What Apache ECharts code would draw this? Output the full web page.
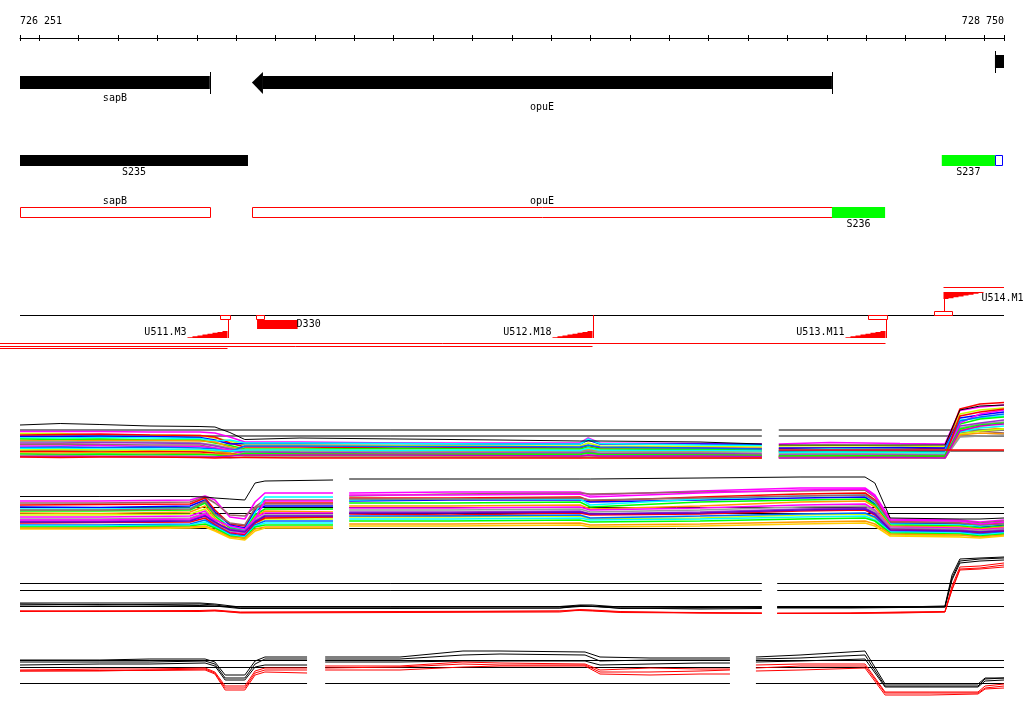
<!DOCTYPE html>
<html><head><meta charset="utf-8">
<script src="https://cdn.jsdelivr.net/npm/echarts@6/dist/echarts.min.js"></script>
<style>html,body{margin:0;padding:0;background:#fff}#c{width:1024px;height:714px}</style>
</head><body><div id="c"></div>
<script>
// ---------------- DATA ----------------
const X_MIN = 726251, X_MAX = 728750;
const rulerTicks = [726251,726300,726400,726500,726600,726700,726800,726900,727000,727100,727200,727300,727400,727500,727600,727700,727800,727900,728000,728100,728200,728300,728400,728500,728600,728700,728750];
const rulerLabels = [726251, 728750];

// genes: name, start, end, strand
const genes = [['sapB',725700,726733,-1],['opuE',726840,728313,-1],['',728727,729300,1]];
// segments track: name, start, end, kind
const segments = [['S235',725700,726830,'known'],['S237',728592,728727,'new']];
const segBoxes = [[728727,728745]];
// transcripts track
const transcripts = [['sapB',725700,726733],['opuE',726840,728313]];
const newTranscripts = [['S236',728313,728448]];
// terminator-like boxes: start, end, side (1 above line, -1 below)
const termBoxes = [[726759,726784,-1],[726850,726870,-1],[728405,728452,-1],[728573,728617,1]];
const downFeatures = [['D330',726853,726956]];
// upshifts: name, position, strand, far extent
const upNames = ['U511.M3','U512.M18','U513.M11','U514.M1'];
const upPos = [726776,727704,728448,728594];
const upStrand = [-1,-1,-1,1];
const upExtent = [726150,726150,726150,728900];

// Panel A (+ strand, all conditions)
const aKnotsL = [726251,726353,726454,726581,726708,726746,726784,726822,726962,727216,727470,727673,727694,727724,727978,728135];
const aKnotsR = [728178,728308,728486,728600,728638,728689,728750];
const aLinesL = [
 [9.3,9.3,9.3,9.2,9.2,9.0,8.2,7.2,7.2,7.0,7.0,7.0,8.0,7.0,6.9,6.8],
 [8.9,8.9,8.6,8.6,8.5,8.0,7.4,6.6,6.6,6.5,6.4,6.4,7.0,6.4,6.3,6.2],
 [8.6,8.7,8.8,8.6,8.5,8.2,7.0,6.2,6.2,6.0,6.1,6.0,6.5,6.0,6.0,5.9],
 [8.3,8.3,8.4,8.3,8.1,7.6,6.8,6.9,6.9,6.9,6.8,6.8,7.6,6.8,6.8,6.7],
 [8.0,8.0,8.1,8.0,7.9,7.4,7.6,7.0,7.0,6.9,6.8,6.8,7.8,6.9,6.6,6.5],
 [7.8,7.7,7.8,7.6,7.6,7.0,6.5,5.8,5.8,5.9,5.8,5.8,6.2,5.8,5.7,5.6],
 [7.5,7.4,7.5,7.5,7.4,7.2,6.2,5.6,5.5,5.5,5.4,5.5,5.8,5.4,5.4,5.3],
 [7.3,7.3,7.2,7.2,7.0,6.6,6.0,5.4,5.3,5.2,5.2,5.2,5.4,5.2,5.1,5.0],
 [7.0,7.0,7.1,7.0,6.9,6.4,5.8,5.2,5.1,5.0,5.0,5.0,5.2,4.9,4.9,4.8],
 [6.7,6.8,6.7,6.6,6.6,6.0,5.4,4.9,4.9,4.8,4.8,4.8,5.0,4.8,4.7,4.6],
 [6.4,6.4,6.5,6.3,6.3,6.0,5.6,4.7,4.6,4.6,4.5,4.4,4.6,4.5,4.4,4.4],
 [6.1,6.2,6.1,6.2,6.0,5.8,5.2,6.4,6.4,6.3,6.3,6.2,6.6,6.2,6.0,5.8],
 [5.9,5.9,5.8,5.8,5.7,5.6,5.4,5.6,5.6,5.5,5.6,5.5,6.0,5.5,5.5,5.4],
 [5.6,5.7,5.6,5.5,5.5,5.2,5.0,4.6,4.6,4.4,4.4,4.3,4.5,4.3,4.3,4.2],
 [5.3,5.3,5.2,5.3,5.2,5.0,4.9,4.5,4.4,4.3,4.2,4.2,4.4,4.2,4.2,4.2],
 [5.0,5.0,5.1,5.0,4.9,4.7,4.8,4.4,4.3,4.2,4.2,4.1,4.2,4.1,4.1,4.0],
 [4.8,4.7,4.8,4.7,4.7,4.6,4.4,4.9,4.8,4.7,4.8,4.7,5.0,4.7,4.6,4.5],
 [4.5,4.5,4.4,4.5,4.4,4.3,4.0,4.2,4.2,4.2,4.1,4.1,4.2,4.1,4.0,4.0],
 [4.3,4.3,4.3,4.2,4.2,4.2,4.4,4.6,4.6,4.6,4.5,4.4,4.6,4.4,4.4,4.3],
 [4.2,4.1,4.2,4.2,4.1,4.0,4.1,4.1,4.0,4.0,4.0,4.0,4.0,4.0,4.0,4.0]
];
const aLinesR = [
 [6.8,7.1,6.9,6.8,13.5,14.2,14.6],
 [6.4,6.5,6.4,6.3,12.8,13.6,14.0],
 [5.9,6.0,6.0,5.9,13.8,14.8,15.1],
 [6.0,6.0,6.1,6.0,12.0,12.6,13.2],
 [5.6,5.8,5.7,5.6,11.6,12.0,12.4],
 [5.2,5.4,5.3,5.2,10.8,11.8,12.2],
 [5.0,5.0,5.1,5.0,9.6,10.2,9.8],
 [4.8,4.9,4.8,4.7,10.0,10.8,11.2],
 [4.6,4.6,4.6,4.5,10.4,11.0,11.6],
 [4.4,4.4,4.5,4.4,9.0,9.4,9.0],
 [4.2,4.3,4.2,4.2,11.0,12.8,13.6],
 [5.4,5.5,5.5,5.4,11.4,12.2,12.8],
 [5.1,5.2,5.1,5.0,9.2,10.0,10.4],
 [4.0,4.0,4.1,4.0,8.8,9.4,9.8],
 [4.3,4.4,4.3,4.3,12.4,13.2,13.8],
 [4.1,4.1,4.0,4.0,8.6,9.0,8.8],
 [4.4,4.5,4.4,4.4,9.8,10.6,11.0],
 [4.1,4.1,4.1,4.0,8.2,8.4,8.6],
 [4.0,4.0,4.1,4.0,9.4,10.4,10.8],
 [5.6,5.6,5.6,5.6,5.6,5.6,5.6]
];
const aBlackL = [10.6,10.9,10.7,10.4,10.3,10.2,9.1,7.7,8.0,7.8,7.6,7.4,7.4,7.4,7.2,6.8];
const aBlackR = [6.6,6.6,6.6,6.6,13.6,14.4,14.6];
const aRefs = [9.6,8.4,5.4];

// Panel B (- strand, all conditions)
const bKnotsL = [726251,726454,726683,726721,726746,726784,726822,726848,726873,727046];
const bKnotsR = [727087,727343,727673,727699,727978,728232,728397,728422,728461,728638,728689,728750];
const bLinesL = [
 [8.8,8.8,9.0,9.8,9.0,5.6,5.2,8.6,10.4,10.4],
 [8.4,8.4,8.6,9.6,8.4,6.0,5.8,7.6,9.0,9.0],
 [8.0,8.1,8.2,9.4,7.0,4.2,3.8,7.0,8.4,8.4],
 [7.6,7.5,7.8,9.0,6.6,4.0,3.4,6.8,7.8,7.8],
 [7.2,7.2,7.4,8.6,6.0,3.6,3.0,6.4,9.6,9.6],
 [6.8,6.8,7.0,8.4,5.8,3.4,2.8,6.0,7.2,7.2],
 [6.4,6.3,6.6,7.8,5.4,3.0,2.4,5.6,6.8,6.6],
 [6.0,6.0,6.2,7.2,5.0,2.0,1.2,4.4,5.2,5.2],
 [5.6,5.6,5.8,6.8,4.6,2.6,2.2,5.4,6.4,6.4],
 [5.2,5.2,5.4,6.4,4.4,2.8,2.6,5.0,6.0,6.0],
 [4.8,4.8,5.0,6.0,4.2,3.2,2.8,4.8,5.6,5.6],
 [4.4,4.5,4.6,5.4,4.0,2.4,2.0,4.4,5.4,5.6],
 [4.0,4.0,4.2,5.0,3.8,2.2,1.8,4.0,4.8,4.8],
 [3.8,3.8,4.0,4.6,3.6,2.0,1.6,3.8,4.4,4.4],
 [3.6,3.6,3.8,4.2,3.4,1.8,1.4,3.6,4.0,4.0],
 [3.4,3.4,3.6,3.8,3.0,1.6,1.4,3.2,3.6,3.6],
 [7.0,7.0,7.2,8.8,6.2,4.4,4.0,7.4,8.2,8.2],
 [5.0,5.0,5.2,6.2,5.0,3.8,3.2,5.2,8.8,8.8],
 [4.6,4.6,4.8,5.8,4.6,3.0,2.6,4.6,5.8,5.8],
 [3.2,3.2,3.4,3.6,2.8,1.4,1.0,2.8,3.4,3.4]
];
const bLinesR = [
 [10.4,10.6,10.6,10.0,10.8,11.4,11.4,10.0,5.2,5.0,4.6,5.0],
 [9.8,10.2,10.4,10.2,10.6,10.8,11.0,9.6,4.8,4.8,4.4,4.8],
 [9.4,9.4,9.6,8.8,9.6,10.2,10.4,9.0,4.6,4.4,4.0,4.4],
 [8.8,9.0,9.0,8.6,9.0,9.4,9.6,8.2,4.4,4.2,3.6,4.0],
 [9.0,9.2,9.2,8.0,9.2,9.8,10.0,8.6,4.2,4.0,3.8,4.2],
 [8.4,8.4,8.6,7.6,8.6,9.0,9.2,8.0,4.0,3.8,3.4,3.8],
 [7.8,7.8,8.0,7.2,7.8,8.6,8.8,7.6,3.8,3.6,3.2,3.6],
 [5.6,5.6,5.8,5.2,5.4,6.0,6.2,5.4,2.0,1.8,2.4,2.6],
 [7.4,7.4,7.6,7.0,7.4,8.0,8.2,7.0,3.6,3.4,3.0,3.4],
 [7.0,7.0,7.2,6.6,7.0,7.6,7.8,6.8,3.4,3.2,2.8,3.2],
 [6.6,6.6,6.8,6.2,6.6,7.2,7.4,6.4,3.2,3.0,2.6,3.0],
 [6.2,6.0,6.4,6.0,6.2,6.8,7.0,6.0,3.0,2.8,2.4,2.8],
 [5.8,5.8,6.0,5.4,5.8,6.2,6.4,5.6,2.8,2.6,2.2,2.6],
 [5.2,5.2,5.4,5.0,5.2,5.6,5.8,5.0,2.6,2.4,2.0,2.4],
 [4.8,4.8,5.0,4.6,4.8,5.2,5.4,4.8,2.4,2.2,1.8,2.2],
 [4.2,4.2,4.4,4.0,4.2,4.6,4.8,4.2,2.2,2.0,1.6,2.0],
 [9.2,9.2,9.4,9.0,9.4,9.8,10.0,8.8,4.6,4.4,4.0,4.2],
 [10.0,10.0,10.2,9.6,10.4,11.0,11.2,9.8,5.0,4.8,4.2,4.6],
 [6.4,6.4,6.6,6.2,6.4,7.0,7.2,6.2,3.0,2.8,2.6,2.8],
 [3.8,3.8,4.0,3.6,3.8,4.2,4.4,3.8,1.8,1.6,1.4,1.8]
];
const bBlackL = [9.7,9.7,9.7,9.6,9.4,9.2,9.0,12.4,12.8,13.0];
const bBlackR = [13.2,13.2,13.2,13.2,13.4,13.6,13.6,12.4,5.4,5.2,5.2,5.4];
const bRefs = [7.5,6.3,3.3];

// Panel C (+ strand summary)
const cKnotsL = [726251,726454,726708,726746,726810,727216,727622,727673,727704,727775,727978,728135];
const cKnotsR = [728174,728359,728486,728600,728618,728638,728689,728750];
const cBlackL = [
 [3.4,3.4,3.4,3.2,2.6,2.6,2.7,3.0,3.0,2.6,2.5,2.6],
 [3.2,3.0,3.2,3.0,2.4,2.4,2.4,2.9,2.8,2.3,2.4,2.5],
 [3.0,3.1,2.9,2.8,2.3,2.3,2.4,2.7,2.7,2.4,2.2,2.3]
];
const cRedL = [
 [1.8,1.8,1.9,2.0,1.6,1.7,1.8,2.1,2.0,1.7,1.4,1.4],
 [1.7,1.8,1.7,1.9,1.4,1.5,1.6,2.0,1.9,1.6,1.5,1.4],
 [1.8,1.7,1.8,1.8,1.5,1.6,1.8,1.9,1.8,1.5,1.4,1.3]
];
const cBlackR = [
 [2.6,2.6,2.6,2.8,9.0,12.2,12.4,12.6],
 [2.5,2.5,2.5,2.6,8.4,11.8,12.2,12.4],
 [2.4,2.4,2.5,2.6,8.0,11.4,11.8,12.0]
];
const cRedR = [
 [1.4,1.4,1.6,1.7,6.8,10.6,10.8,11.4],
 [1.3,1.4,1.5,1.6,6.2,10.2,10.4,11.0],
 [1.3,1.3,1.4,1.6,6.0,10.0,10.2,10.6]
];
const cRefs = [7.3,5.9,2.7];

// Panel D (- strand summary)
const dKnotsL = [726251,726454,726581,726721,726746,726772,726822,726848,726873,726980];
const dKnotsM = [727026,727216,727376,727470,727686,727724,727851,727978,728054];
const dKnotsR = [728120,728232,728397,728448,728562,728684,728702,728750];
const dBlackL = [
 [8.0,8.0,8.2,8.2,7.6,5.0,5.0,7.8,8.6,8.6],
 [7.6,7.6,7.6,7.8,7.2,4.4,4.4,7.2,8.2,8.2],
 [7.0,7.2,7.2,7.4,6.8,4.0,4.0,6.6,7.0,7.0]
];
const dRedL = [
 [6.0,6.2,6.2,6.4,5.6,2.8,2.8,5.8,6.4,6.4],
 [5.8,5.8,6.0,6.2,5.4,2.4,2.4,5.4,6.0,6.0],
 [5.8,5.9,5.9,6.0,5.2,2.0,2.0,5.0,5.6,5.4]
];
const dBlackM = [
 [8.6,8.6,9.8,9.8,9.6,8.6,8.4,8.4,8.4],
 [8.2,8.2,9.0,9.2,9.0,7.8,8.0,8.0,8.0],
 [7.6,7.6,7.8,7.8,7.8,7.0,7.2,7.4,7.4]
];
const dRedM = [
 [6.8,6.8,7.6,7.4,7.2,6.0,6.4,6.2,6.2],
 [6.4,6.6,7.2,7.0,7.0,5.6,5.6,5.8,6.0],
 [6.0,6.0,6.6,6.8,6.8,5.2,5.0,5.2,5.2]
];
const dBlackR = [
 [8.6,9.0,9.8,3.2,3.2,3.2,4.4,4.4],
 [8.2,8.4,9.0,2.8,2.8,2.8,4.2,4.4],
 [7.6,7.8,8.2,2.6,2.6,2.6,3.8,4.0]
];
const dRedR = [
 [7.0,7.2,7.2,1.6,1.6,1.6,2.8,3.2],
 [6.4,6.8,6.8,1.4,1.4,1.4,2.4,2.8],
 [5.8,6.0,6.4,1.0,1.0,1.2,2.2,2.4]
];
const dRefs = [7.9,6.5,3.3];

// ---------------- STYLE / LAYOUT ----------------
const FONT = '10px "DejaVu Sans Mono", monospace';
const colorsA = ['#ff00ff','#ccff00','#ff0000','#0000ff','#00ffff','#00ff00','#ff9900','#999999','#9933cc','#996666','#ff00ff','#0066ff','#00ffff','#ccff00','#ff0000','#ff9900','#00ff00','#999999','#cc00cc','#ff0000'];
const colorsB = ['#ff00ff','#996666','#ff0000','#0000ff','#00ffff','#00ff00','#ff9900','#ccff00','#ff00ff','#999999','#9933cc','#ff0000','#0066ff','#00ffff','#00ff00','#ff9900','#996666','#ff00ff','#6600cc','#ffcc00'];
const geneLabelY = [98, 107, 98];
const upExtentRow = [348, 346, 343, 287];

function crisp(v){ return Math.round(v) + 0.5; }
function txt(s, x, y, align){
  return {type:'text', style:{text:s, x:x, y:y, font:FONT, fill:'#000',
    align:align||'center', verticalAlign:'middle', textAlign:align||'center', textVerticalAlign:'middle'}};
}
function hline(x1, x2, y, color){
  return {type:'line', shape:{x1:x1, y1:y+0.5, x2:x2, y2:y+0.5}, style:{stroke:color, lineWidth:1}};
}
function vline(x, y1, y2, color){
  return {type:'line', shape:{x1:crisp(x), y1:y1, x2:crisp(x), y2:y2}, style:{stroke:color, lineWidth:1}};
}
function bounds(params){ const cs = params.coordSys; return [cs.x, cs.x + cs.width]; }
function X(api, bp){ return api.coord([bp, 0])[0]; }

function renderGene(params, api){
  const g = genes[params.dataIndex];
  const [left, right] = bounds(params);
  const xs = X(api, g[1]), xe = X(api, g[2]);
  const rev = g[3] < 0;
  const top = rev ? 76 : 55, h = 13, mid = top + h/2, AH = 11;
  const kids = [];
  let b1 = Math.max(xs, left), b2 = Math.min(xe, right);
  if (rev && xs >= left){ kids.push({type:'polygon', shape:{points:[[xs,mid],[xs+AH,top-4],[xs+AH,top+h+5]]}, style:{fill:'#000'}}); b1 = xs + AH; }
  if (!rev && xe <= right){ kids.push({type:'polygon', shape:{points:[[xe,mid],[xe-AH,top-4],[xe-AH,top+h+5]]}, style:{fill:'#000'}}); b2 = xe - AH; }
  kids.push({type:'rect', shape:{x:b1, y:top, width:b2-b1, height:h}, style:{fill:'#000'}});
  const sx = rev ? xe : xs;
  if (sx >= left - 1 && sx <= right + 1) kids.push(vline(sx, top-4, top+h+5, '#000'));
  if (g[0]) kids.push(txt(g[0], (Math.max(xs,left)+Math.min(xe,right))/2, geneLabelY[params.dataIndex]));
  return {type:'group', children:kids};
}
function renderSeg(params, api){
  const s = segments[params.dataIndex];
  const [left, right] = bounds(params);
  const x1 = Math.max(X(api, s[1]), left), x2 = Math.min(X(api, s[2]), right);
  return {type:'group', children:[
    {type:'rect', shape:{x:x1, y:155, width:x2-x1, height:11}, style:{fill: s[3]==='new' ? '#00ff00' : '#000'}},
    txt(s[0], (x1+x2)/2, 172)
  ]};
}
function renderSegBox(params, api){
  const b = segBoxes[params.dataIndex];
  const x1 = crisp(X(api, b[0])), x2 = crisp(X(api, b[1]));
  return {type:'rect', shape:{x:x1, y:155.5, width:x2-x1, height:10}, style:{fill:'#fff', stroke:'#0000ff', lineWidth:1}};
}
function renderTranscript(params, api){
  const t = transcripts[params.dataIndex];
  const [left, right] = bounds(params);
  const x1 = Math.max(X(api, t[1]), left), x2 = Math.min(X(api, t[2]), right);
  return {type:'group', children:[
    {type:'rect', shape:{x:crisp(x1), y:207.5, width:Math.round(x2-x1), height:10}, style:{fill:'#fff', stroke:'#ff0000', lineWidth:1}},
    txt(t[0], (x1+x2)/2, 201)
  ]};
}
function renderNewTranscript(params, api){
  const t = newTranscripts[params.dataIndex];
  const x1 = X(api, t[1]), x2 = X(api, t[2]);
  return {type:'group', children:[
    {type:'rect', shape:{x:x1, y:207, width:x2-x1, height:11}, style:{fill:'#00ff00'}},
    txt(t[0], (x1+x2)/2, 224)
  ]};
}
function renderBaseline(params, api){
  const [left, right] = bounds(params);
  return hline(left, right, 315, '#000');
}
function renderUp(params, api){
  const i = params.dataIndex;
  const [left, right] = bounds(params);
  const x = crisp(X(api, upPos[i]));
  const kids = [];
  const n = 8, w = 40, h = 7;
  if (upStrand[i] < 0){
    const yB = 338, xL = x - w, sw = w / n;
    const pts = [[xL, yB]];
    for (let k = 0; k < n; k++){ const y = yB - h*(k+1)/n; pts.push([xL + k*sw, y], [xL + (k+1)*sw, y]); }
    pts.push([x, yB]);
    kids.push({type:'polygon', shape:{points:pts}, style:{fill:'#ff0000'}});
    kids.push(vline(x, 315, yB, '#ff0000'));
    kids.push(hline(X(api, upExtent[i]), x, upExtentRow[i], '#ff0000'));
    kids.push(txt(upNames[i], xL - 1, 332, 'right'));
  } else {
    const yT = 292, xL = x, sw = w / n;
    const pts = [[xL, yT], [xL + w, yT]];
    for (let k = n - 1; k >= 0; k--){ const y = yT + h*(n-k)/n; pts.push([xL + (k+1)*sw, y], [xL + k*sw, y]); }
    kids.push({type:'polygon', shape:{points:pts}, style:{fill:'#ff0000'}});
    kids.push(vline(x, yT, 315, '#ff0000'));
    kids.push(hline(x, Math.min(X(api, upExtent[i]), right), upExtentRow[i], '#ff0000'));
    kids.push(txt(upNames[i], xL + w - 2, 298, 'left'));
  }
  return {type:'group', children:kids};
}
function renderTermBox(params, api){
  const b = termBoxes[params.dataIndex];
  const x1 = crisp(X(api, b[0])), x2 = crisp(X(api, b[1]));
  const y = b[2] < 0 ? 315.5 : 311.5;
  return {type:'rect', shape:{x:x1, y:y, width:x2-x1, height:4}, style:{fill:'#fff', stroke:'#ff0000', lineWidth:1}};
}
function renderDown(params, api){
  const d = downFeatures[params.dataIndex];
  const x1 = X(api, d[1]), x2 = X(api, d[2]);
  return {type:'group', children:[
    {type:'rect', shape:{x:x1, y:320, width:x2-x1, height:9}, style:{fill:'#ff0000'}},
    txt(d[0], x2 - 1, 324, 'left')
  ]};
}

const series = [];
function custom(data, fn){
  series.push({type:'custom', xAxisIndex:0, yAxisIndex:0, silent:true, animation:false, clip:false,
    data:data, renderItem:fn});
}
custom([[X_MIN, X_MAX]], renderBaseline);
custom(genes.map(g => [g[1], g[2]]), renderGene);
custom(segments.map(s => [s[1], s[2]]), renderSeg);
custom(segBoxes.map(b => [b[0], b[1]]), renderSegBox);
custom(transcripts.map(t => [t[1], t[2]]), renderTranscript);
custom(newTranscripts.map(t => [t[1], t[2]]), renderNewTranscript);
custom(upPos.map((p, i) => [p, upExtent[i]]), renderUp);
custom(termBoxes.map(b => [b[0], b[1]]), renderTermBox);
custom(downFeatures.map(d => [d[1], d[2]]), renderDown);

function line(panel, knots, vals, color, width){
  series.push({type:'line', xAxisIndex:panel+1, yAxisIndex:panel, symbol:'none', showSymbol:false,
    silent:true, animation:false, z:2,
    data:knots.map((k, j) => [k, vals[j]]),
    lineStyle:{color:color, width:width || 1}, itemStyle:{color:color}});
}
function refs(panel, knotSets, levels){
  levels.forEach(v => knotSets.forEach(k => line(panel, [k[0], k[k.length-1]], [v, v], '#000')));
}
// Panel A
refs(1, [aKnotsL, aKnotsR], aRefs);
aLinesL.forEach((v, i) => line(1, aKnotsL, v, colorsA[i], 1.6));
aLinesR.forEach((v, i) => line(1, aKnotsR, v, colorsA[i], 1.6));
line(1, aKnotsL, aBlackL, '#000'); line(1, aKnotsR, aBlackR, '#000');
// Panel B
refs(2, [bKnotsL, bKnotsR], bRefs);
bLinesL.forEach((v, i) => line(2, bKnotsL, v, colorsB[i], 1.6));
bLinesR.forEach((v, i) => line(2, bKnotsR, v, colorsB[i], 1.6));
line(2, bKnotsL, bBlackL, '#000'); line(2, bKnotsR, bBlackR, '#000');
// Panel C
refs(3, [cKnotsL, cKnotsR], cRefs);
cBlackL.forEach(v => line(3, cKnotsL, v, '#000'));
cBlackR.forEach(v => line(3, cKnotsR, v, '#000'));
cRedL.forEach(v => line(3, cKnotsL, v, '#ff0000'));
cRedR.forEach(v => line(3, cKnotsR, v, '#ff0000'));
// Panel D
refs(4, [dKnotsL, dKnotsM, dKnotsR], dRefs);
dBlackL.forEach(v => line(4, dKnotsL, v, '#000'));
dBlackM.forEach(v => line(4, dKnotsM, v, '#000'));
dBlackR.forEach(v => line(4, dKnotsR, v, '#000'));
dRedL.forEach(v => line(4, dKnotsL, v, '#ff0000'));
dRedM.forEach(v => line(4, dKnotsM, v, '#ff0000'));
dRedR.forEach(v => line(4, dKnotsR, v, '#ff0000'));

const gridBase = {left:20, width:984, containLabel:false, outerBoundsMode:'none'};
const hiddenX = i => ({type:'value', gridIndex:i, min:X_MIN, max:X_MAX, show:false});
const option = {
  animation:false,
  backgroundColor:'#fff',
  grid:[
    Object.assign({top:38, height:320}, gridBase),
    Object.assign({top:398, height:65}, gridBase),
    Object.assign({top:465, height:80}, gridBase),
    Object.assign({top:550, height:70}, gridBase),
    Object.assign({top:645, height:55}, gridBase)
  ],
  xAxis:[
    {type:'value', gridIndex:0, position:'top', min:X_MIN, max:X_MAX, splitLine:{show:false},
     axisLine:{show:true, onZero:false, lineStyle:{color:'#000', width:1}},
     axisTick:{show:true, customValues:rulerTicks, length:3, inside:false, lineStyle:{color:'#000'}},
     axisLabel:{show:true, customValues:rulerLabels, margin:12, color:'#000', fontFamily:'DejaVu Sans Mono', fontSize:10,
       alignMinLabel:'left', alignMaxLabel:'right', showMinLabel:true, showMaxLabel:true, hideOverlap:false,
       formatter:v => Math.floor(v/1000) + ' ' + String(v % 1000).padStart(3, '0')}},
    {type:'value', gridIndex:0, position:'top', offset:0, min:X_MIN, max:X_MAX, splitLine:{show:false},
     axisLine:{show:false, onZero:false},
     axisTick:{show:true, customValues:rulerTicks, length:3, inside:true, lineStyle:{color:'#000'}},
     axisLabel:{show:false}},
    hiddenX(1), hiddenX(2), hiddenX(3), hiddenX(4)
  ],
  yAxis:[
    {type:'value', gridIndex:0, min:0, max:1, show:false},
    {type:'value', gridIndex:1, min:3, max:16, show:false},
    {type:'value', gridIndex:2, min:0, max:16, show:false},
    {type:'value', gridIndex:3, min:0, max:14, show:false},
    {type:'value', gridIndex:4, min:0, max:11, show:false}
  ],
  series:series
};
const chart = echarts.init(document.getElementById('c'), null, {renderer:'canvas'});
chart.setOption(option);
</script></body></html>
